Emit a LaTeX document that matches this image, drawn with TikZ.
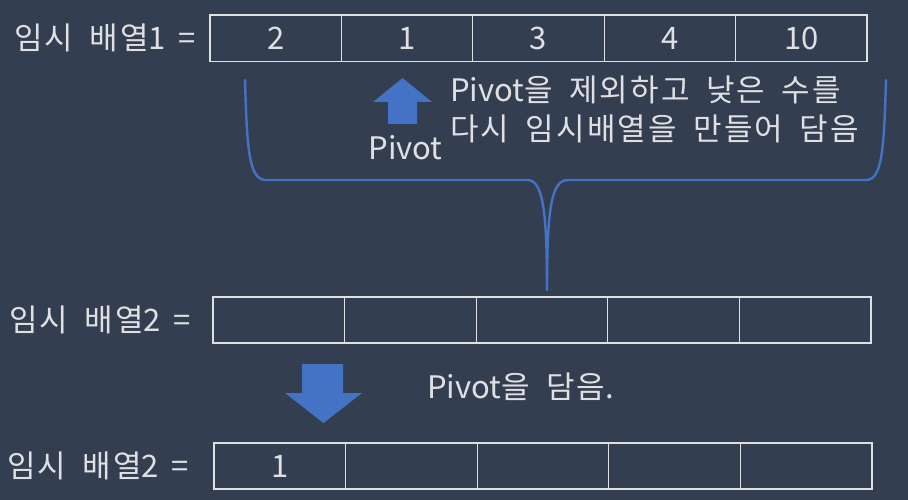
\documentclass[tikz,border=0pt]{standalone}
\usepackage{fontspec}
\setmainfont{Noto Sans CJK KR}[WordSpace=1.8]
\newfontfamily\kof{Noto Sans CJK KR}[LetterSpace=7,WordSpace=1.8]
\definecolor{bgc}{RGB}{51,63,80}
\definecolor{txc}{RGB}{224,224,227}
\definecolor{blu}{RGB}{68,114,196}
\tikzset{
  cell/.style={draw=txc, line width=1.2pt, minimum width=131.5pt, minimum height=46pt, inner sep=0pt, text=txc, font=\fontsize{31}{33}\selectfont},
  lbl/.style={text=txc, font=\fontsize{31}{33}\selectfont, inner sep=0pt},
  txt/.style={text=txc, font=\fontsize{31}{39}\selectfont, inner sep=0pt},
  bigarrow/.style={fill=blu, draw=none},
  brace/.style={draw=blu, line width=2.4pt}
}
\begin{document}
\begin{tikzpicture}[x=1pt,y=-1pt]
\fill[bgc] (0,0) rectangle (908,500);
\useasboundingbox (0,0) rectangle (908,500);
% table 1
\foreach \v [count=\i] in {2,1,3,4,10}
  \node[cell, minimum height=46.7pt, minimum width=131.4pt] (a\i) at ({210+65.7+131.4*(\i-1)},38.3) {\v};
% table 2
\foreach \i in {1,...,5}
  \node[cell, minimum width=131.6pt] (b\i) at ({213+65.8+131.6*(\i-1)},320) {};
% table 3
\foreach \v [count=\i] in {1,,,,}
  \node[cell, minimum width=131.6pt] (c\i) at ({214+65.8+131.6*(\i-1)},466) {\v};
% labels
\node[lbl, anchor=east] (la) at (196,38) {{\kof 임시 배열}1 =};
\node[lbl, anchor=east] (lb) at (191,320) {{\kof 임시 배열}2 =};
\node[lbl, anchor=east] (lc) at (189,466) {{\kof 임시 배열}2 =};
% up arrow
\fill[bigarrow] (402.5,78) -- (432,102) -- (417,102) -- (417,124) -- (388,124) -- (388,102) -- (373,102) -- cycle;
\node[txt] (piv) at (405.5,148) {Pivot};
\node[txt, anchor=west, align=left] (desc) at (450,109) {Pivot{\kof 을 제외하고 낮은 수를}\\{\kof 다시 임시배열을 만들어 담음}};
% brace
\coordinate (bl) at (245,80);
\coordinate (br) at (886,80);
\coordinate (tip) at (547,290);
\draw[brace, line cap=round, line join=round] (bl) .. controls (247,150) and (249,180) .. (266,180) -- (527,180) .. controls (542,180) and (547,205) .. (tip);
\draw[brace, line cap=round, line join=round] (br) .. controls (884,150) and (882,180) .. (866,180) -- (568,180) .. controls (552,180) and (547,205) .. (tip);
% down arrow
\fill[bigarrow] (302,364) -- (343,364) -- (343,393) -- (362,393) -- (323.5,423) -- (285,393) -- (302,393) -- cycle;
\node[txt, anchor=west] (put) at (427,387) {Pivot{\kof 을 담음}.};
\end{tikzpicture}
\end{document}
